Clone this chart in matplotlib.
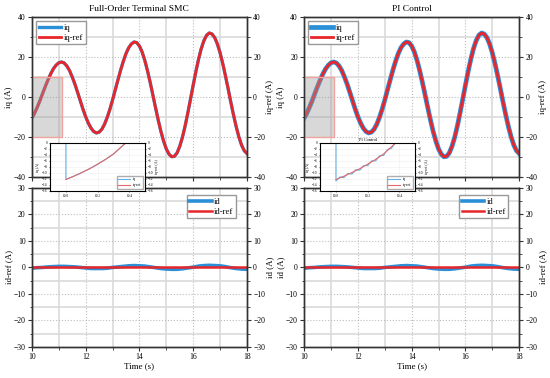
import numpy as np
import matplotlib
matplotlib.use('Agg')
import matplotlib.pyplot as plt
import matplotlib.ticker as mticker
from matplotlib.patches import Rectangle

plt.rcParams['font.family'] = ['Liberation Serif', 'DejaVu Serif']

# sample times: 0.1 s for iq, 0.2 s for id
t = np.linspace(10, 18, 81)
t_d = np.linspace(10, 18, 41)

iq_ref = [-10.6, -8.1, -5.1, -1.8, 1.8, 5.3, 8.6, 11.6, 14.1, 15.9,
          17.1, 17.5, 17.0, 15.5, 13.2, 10.0, 6.4, 2.3, -1.9, -6.1,
          -9.9, -13.1, -15.6, -17.3, -18.0, -17.6, -16.2, -13.7, -10.3, -6.2,
          -1.5, 3.5, 8.5, 13.4, 17.8, 21.7, 24.6, 26.5, 27.5, 27.2,
          25.5, 22.5, 18.3, 13.1, 7.3, 1.0, -5.4, -11.6, -17.3, -22.1,
          -26.0, -28.6, -29.9, -29.7, -28.0, -24.7, -20.2, -14.5, -8.0, -1.1,
          5.9, 12.7, 18.9, 24.2, 28.2, 30.9, 32.0, 31.5, 29.7, 26.5,
          22.1, 16.7, 10.6, 4.1, -2.6, -9.0, -14.9, -20.0, -24.1, -26.9,
          -28.3]
iq_smc = iq_ref
iq_pi = iq_ref

id_ref = [0.0] * 41
id_smc = [-0.3, -0.1, 0.0, 0.2, 0.3, 0.4, 0.4, 0.3, 0.2, 0.0, -0.2,
          -0.4, -0.4, -0.4, -0.3, 0.0, 0.2, 0.4, 0.6, 0.7, 0.6,
          0.5, 0.2, -0.1, -0.4, -0.6, -0.7, -0.7, -0.5, -0.2, 0.1,
          0.5, 0.7, 0.8, 0.7, 0.6, 0.3, -0.1, -0.4, -0.6, -0.7]
id_pi = id_smc

# zoomed start-up region (insets)
t_zoom = [10.0, 10.05, 10.1, 10.15, 10.2, 10.25, 10.3, 10.35, 10.4]
iq_ref_zoom = [-12.2, -11.1, -9.9, -8.6, -7.1, -5.5, -3.7, -1.3, 1.0]
t_smc_zoom = [10.0, 10.0, 10.05, 10.1, 10.15, 10.2, 10.25, 10.3, 10.35, 10.4]
iq_smc_zoom = [5.0, -12.2, -11.1, -9.9, -8.6, -7.1, -5.5, -3.7, -1.3, 1.0]
t_pi_zoom = [10.0, 10.0, 10.025, 10.05, 10.075, 10.1, 10.125, 10.15, 10.175,
             10.2, 10.225, 10.25, 10.275, 10.3, 10.325, 10.35, 10.375, 10.4]
iq_pi_zoom = [5.0, -12.7, -11.35, -11.6, -10.2, -10.4, -8.95, -9.1, -7.55,
              -7.6, -6.0, -6.0, -4.3, -4.2, -2.2, -1.8, 0.15, 0.5]

BLUE = '#2b8fd8'
RED = '#e8262a'
SPINE = '#333333'


def style(ax, ymaj, ymin, ylim, show_x):
    ax.set_xlim(10, 18)
    ax.set_ylim(*ylim)
    ax.xaxis.set_major_locator(mticker.MultipleLocator(2))
    ax.xaxis.set_minor_locator(mticker.MultipleLocator(1))
    ax.yaxis.set_major_locator(mticker.MultipleLocator(ymaj))
    ax.yaxis.set_minor_locator(mticker.MultipleLocator(ymin))
    ax.grid(which='major', ls=':', color='#bdbdbd', lw=0.8)
    ax.grid(which='minor', ls='-', color='#dadada', lw=1.2)
    ax.set_axisbelow(True)
    ax.tick_params(which='both', direction='out', labelsize=5.5, color=SPINE,
                   right=False, top=False, pad=1.5)
    ax.tick_params(which='major', length=3)
    ax.tick_params(which='minor', length=1.8)
    for s in ax.spines.values():
        s.set_color(SPINE)
        s.set_linewidth(1.0)
    if not show_x:
        ax.tick_params(axis='x', labelbottom=False)
    else:
        ax.set_xlabel('Time (s)', fontsize=6.5, labelpad=1)


def twin(ax, label, ymaj, ymin):
    tw = ax.twinx()
    tw.set_ylim(ax.get_ylim())
    tw.yaxis.set_major_locator(mticker.MultipleLocator(ymaj))
    tw.yaxis.set_minor_locator(mticker.MultipleLocator(ymin))
    tw.tick_params(which='both', direction='out', labelsize=5.5, color=SPINE, pad=1.5)
    tw.tick_params(which='major', length=3)
    tw.tick_params(which='minor', length=1.8)
    tw.set_ylabel(label, fontsize=6.3, labelpad=1)
    for s in tw.spines.values():
        s.set_color(SPINE)
        s.set_linewidth(1.0)
    return tw


def inset(fig, rect, tb, yb, title=None):
    ax = fig.add_axes(rect, zorder=10)
    ax.set_facecolor('white')
    ax.plot(tb, yb, color='#5fb3ea', lw=0.8, label='iq', zorder=3)
    ax.plot(t_zoom, iq_ref_zoom, color='#e46a6a', lw=0.8, label='iq-ref', zorder=4)
    ax.set_xlim(9.9, 10.5)
    ax.set_ylim(-16, 0)
    ax.xaxis.set_major_locator(mticker.FixedLocator([10.0, 10.2, 10.4]))
    ax.xaxis.set_major_formatter(mticker.FormatStrFormatter('%.1f'))
    ax.yaxis.set_major_locator(mticker.MultipleLocator(2))
    ax.tick_params(labelsize=2.5, length=1, width=0.4, pad=1)
    ax.grid(color='#eeeeee', lw=0.4)
    ax.set_ylabel('iq (A)', fontsize=2.8, labelpad=1)
    for s in ax.spines.values():
        s.set_linewidth(0.5)
        s.set_color('#555555')
    tw = ax.twinx()
    tw.set_ylim(-16, 0)
    tw.yaxis.set_major_locator(mticker.MultipleLocator(2))
    tw.tick_params(labelsize=2.5, length=1, width=0.4, pad=1)
    tw.set_ylabel('iq-ref (A)', fontsize=2.8, labelpad=1)
    ax.legend(loc='lower right', fontsize=2.8, frameon=True,
              fancybox=False, edgecolor='#999999', handlelength=3)
    if title:
        ax.set_title(title, fontsize=3.2, pad=1.5)
    return ax


fig = plt.figure(figsize=(5.5, 3.78), dpi=100)

panels = [
    (0.058, 'Full-Order Terminal SMC', iq_smc, id_smc, 2.4,
     ('id-ref (A)', 'id (A)'), t_smc_zoom, iq_smc_zoom, None, 0.091),
    (0.553, 'PI Control', iq_pi, id_pi, 3.4,
     ('id (A)', 'id-ref (A)'), t_pi_zoom, iq_pi_zoom, 'PI Control', 0.582),
]

for x0, title, iq, idv, blw, dlabels, tb, yb, ititle, ix in panels:
    # top: iq
    ax1 = fig.add_axes([x0, 0.532, 0.391, 0.423])
    style(ax1, 20, 10, (-40, 40), False)
    ax1.plot(t, iq, color=BLUE, lw=blw, label='iq')
    ax1.plot(t, iq_ref, color=RED, lw=2.0, label='iq-ref')
    ax1.add_patch(Rectangle((10, -20), 1.12, 30, facecolor=(0.62, 0.62, 0.62, 0.4),
                            edgecolor='#f2a39c', lw=1.0, zorder=5))
    ax1.set_ylabel('iq (A)', fontsize=6.3, labelpad=0.5)
    ax1.set_title(title, fontsize=6.8, pad=4)
    ax1.legend(loc='upper left', fontsize=6.2, fancybox=False, edgecolor='#999999',
               framealpha=1, handlelength=2.6, borderpad=0.3, labelspacing=0.2,
               handletextpad=0.3)
    twin(ax1, 'iq-ref (A)', 20, 10)

    # bottom: id
    ax2 = fig.add_axes([x0, 0.082, 0.391, 0.421])
    style(ax2, 10, 5, (-30, 30), True)
    ax2.plot(t_d, idv, color=BLUE, lw=2.6, label='id')
    ax2.plot(t_d, id_ref, color=RED, lw=1.8, label='id-ref')
    ax2.set_ylabel(dlabels[0], fontsize=6.3, labelpad=0.5)
    ax2.legend(loc='upper right', fontsize=6.2, fancybox=False, edgecolor='#999999',
               framealpha=1, handlelength=2.6, borderpad=0.3, labelspacing=0.2,
               handletextpad=0.3, bbox_to_anchor=(0.97, 0.98))
    twin(ax2, dlabels[1], 10, 5)

    inset(fig, [ix, 0.495, 0.173, 0.127], tb, yb, ititle)

fig.savefig('out.png', dpi=100)
